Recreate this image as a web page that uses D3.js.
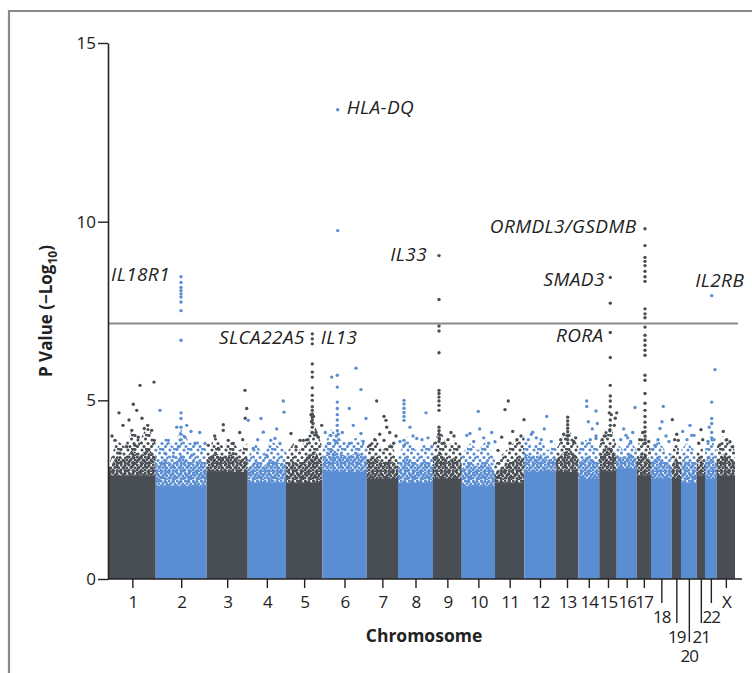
<!DOCTYPE html>
<html>
<head>
<meta charset="utf-8">
<script src="https://cdn.jsdelivr.net/npm/d3@7"></script>
<style>
body { margin: 0; background: #fff; }
text { font-family: "Open Sans", sans-serif; fill: #222; }
</style>
</head>
<body>
<svg id="chart" width="752" height="673"></svg>
<script>
// chromosome names and relative sizes (as plotted)
const chromNames = ['1','2','3','4','5','6','7','8','9','10','11','12','13','14','15','16','17','18','19','20','21','22','X'];
const chromSize = [46.7, 51, 41, 38.3, 36.3, 44.4, 31.3, 35, 28.7, 33.3, 29.3, 31.4, 22.6, 21, 17.4, 20, 14.3, 20.7, 9.3, 15.7, 8.3, 11.7, 18.3];

// top of the fully packed mass of SNPs, per chromosome (-log10 P)
const solidTop = [2.9, 2.6, 3.0, 2.7, 2.7, 3.0, 2.8, 2.7, 2.8, 2.6, 2.7, 3.0, 3.0, 2.8, 3.0, 3.1, 2.9, 2.8, 2.8, 2.7, 2.9, 2.8, 2.9];

// upper edge of the densely scattered SNPs, sampled across each chromosome
const fringeTop = [
  [3.2, 3.9, 3.7, 4.2, 3.9, 4.3, 3.8], [3.6, 4.0, 3.7, 4.2, 3.8, 3.9, 3.6], [3.5, 4.0, 3.7, 3.9, 3.6, 3.8],
  [3.4, 3.8, 3.5, 3.9, 3.7, 3.6], [3.5, 3.8, 3.6, 4.1, 4.3, 3.7], [3.6, 4.2, 3.9, 3.8, 4.0, 3.7],
  [3.7, 4.0, 3.6, 3.8, 3.4], [3.4, 4.0, 3.6, 3.8, 3.6], [3.8, 4.2, 3.7, 3.9, 3.6],
  [3.5, 3.8, 3.6, 3.9, 3.3], [3.2, 3.5, 3.7, 3.9, 4.0], [4.0, 3.7, 3.9, 3.6, 3.8],
  [3.6, 4.0, 4.1, 3.7], [3.6, 3.9, 3.8, 3.6], [3.8, 4.2, 4.3, 3.7],
  [3.8, 3.6, 3.9, 3.6], [3.6, 4.1, 4.0, 3.6], [3.7, 3.9, 3.6, 3.5],
  [3.5, 3.9, 3.4], [3.6, 3.8, 3.7, 3.5], [3.5, 3.8, 3.4],
  [3.6, 4.0, 3.9, 3.5], [3.7, 4.0, 3.8, 3.6]
];

// individual SNPs standing out above the mass: [offset within chromosome, -log10 P]
const hits = [
  [[10,4.65],[24.3,4.89],[27.7,4.72],[31,5.42],[45,5.51],[38.7,4.3],[35.3,4.21],[45.3,3.88],[22.7,4.16],[17.7,3.7],[6,3.88],[11,3.52],[29.3,3.97],[26,3.74],[42.7,4.16],[3,4.0],[14,4.3],[20,4.45],[33,4.5]],
  [[25.3,8.46],[25.3,8.3],[25.3,8.16],[25.3,8.07],[25.3,7.98],[25.3,7.89],[25.3,7.75],[25.3,7.51],[25.3,6.68],[4.3,4.72],[25.3,4.65],[25.3,4.49],[25.3,4.25],[21,4.25],[35.3,4.13],[12.6,3.88],[39.3,3.79],[49.3,3.79],[29.3,3.97],[22.6,3.7],[9.3,3.52],[36,3.46],[17.6,3.42],[25.3,4.05],[25.3,3.9],[44,4.1],[31,4.3]],
  [[16.6,4.32],[16.6,4.16],[26.6,3.79],[1.6,3.74],[38.3,5.28],[40,4.77],[11.6,3.65],[21.6,3.88],[26.6,3.51],[8,4.0],[33,4.1],[36,3.9],[38.5,4.5]],
  [[0.6,4.44],[13.3,4.49],[35.6,4.98],[36.3,4.67],[15.6,4.11],[27.3,3.93],[5.6,3.65],[19,3.46],[32.3,3.79],[23,3.88],[10,3.9],[29,4.2]],
  [[26.3,6.86],[26.3,6.72],[26.3,6.58],[26.3,6.02],[26.3,5.79],[26.3,5.65],[26.3,5.35],[26.3,5.14],[26.3,5.0],[26.3,4.82],[26.3,4.72],[26.3,4.62],[26.3,4.53],[26.3,4.45],[25,4.6],[27.5,4.55],[25.5,4.4],[27,4.35],[26.3,4.25],[26.3,4.1],[35.7,4.3],[5,4.07],[17.3,3.88],[32.3,3.97],[14,3.88],[10,3.7],[30,4.1],[22,3.9]],
  [[15.4,13.13],[15.4,9.75],[15,5.7],[15,5.37],[15,4.95],[15,4.77],[15,4.6],[15,4.45],[15,4.3],[15,4.15],[14,4.0],[16,4.05],[13.5,3.85],[16.5,3.9],[9.4,5.65],[33.7,5.9],[38.7,5.3],[27,4.77],[43.7,4.49],[38.7,4.07],[6,3.79],[27,3.79],[20,4.1],[31,4.3],[3,4.1],[41,3.85]],
  [[10,4.98],[17.3,4.55],[19.3,4.44],[20,4.25],[29.3,4.0],[3.3,3.74],[17.3,3.88],[25,3.7],[8,3.9],[13,4.05],[23,4.1],[27,3.8]],
  [[6,5.0],[6,4.9],[6,4.78],[6,4.66],[6,4.55],[6,4.44],[6,3.88],[6,3.74],[12,4.25],[28,4.65],[18.7,3.93],[33.7,3.7],[24,3.9],[15,4.0],[30,3.95],[2,3.85]],
  [[6,9.05],[6,7.82],[6,7.08],[6,6.94],[6,6.33],[6,5.28],[6,5.19],[6,5.09],[6,4.98],[6,4.86],[6,4.72],[6,4.25],[6,4.15],[6,4.05],[6,3.95],[6,3.85],[21,4.0],[15,3.9],[26,3.7],[11,3.8],[18,4.1]],
  [[16.6,4.69],[33.3,3.84],[5,4.02],[8.3,4.07],[12,3.85],[22,3.95],[27,3.8],[18,4.2],[30,4.1]],
  [[13.3,4.98],[10,4.74],[17.7,4.13],[6.7,3.97],[22,3.9],[26,4.0],[3,3.6],[15,3.8],[29,4.46]],
  [[22.4,4.55],[8.4,4.11],[7,4.05],[12,3.95],[17,3.9],[27,3.85],[4,3.9],[20,4.2]],
  [[12,4.53],[12,4.42],[12,4.32],[12,4.22],[12,4.12],[12,4.0],[12,3.9],[12,3.8],[5,3.9],[18,3.85],[8,4.05],[20,3.95]],
  [[8.4,4.98],[8.4,4.83],[17.7,4.7],[17.7,4.0],[17.7,3.93],[4,3.8],[12,3.9],[14,4.2],[10,4.4],[19,4.35]],
  [[11,8.44],[11,7.72],[11,6.9],[11,6.2],[11,5.42],[11,5.12],[11,4.98],[11,4.82],[10,4.65],[12,4.6],[11,4.45],[11,4.3],[10.5,4.15],[17.4,4.65],[16,4.5],[3,3.9],[6,4.0],[15,4.3]],
  [[18.3,4.8],[9.3,4.02],[11,3.95],[4,3.9],[14,3.85],[16,4.1],[7,4.2]],
  [[8.3,9.8],[8.3,9.33],[8.3,9.0],[8.3,8.89],[8.3,8.77],[8.3,8.61],[8.3,8.46],[8.3,8.33],[8.3,7.56],[8.3,7.42],[8.3,7.31],[8.3,7.05],[8.3,6.82],[8.3,6.68],[8.3,6.54],[8.3,6.4],[8.3,6.26],[8.3,5.7],[8.3,5.56],[8.3,5.19],[8.3,4.92],[8.3,4.72],[8.3,4.55],[8.3,4.39],[8.3,4.25],[8.3,4.12],[8.3,4.0],[8.3,3.9],[8.3,3.8],[3,3.9],[12,3.85],[6,4.1]],
  [[12.3,4.83],[9,4.21],[15,4.0],[4,3.74],[7,3.9],[18,3.85],[11,4.4]],
  [[0.6,4.46],[6.6,3.88],[3,3.9],[5,4.05]],
  [[1.7,4.13],[10.7,4.02],[13,4.02],[6,3.9],[9,4.3]],
  [[4.3,4.18],[2,3.8],[6,3.9]],
  [[6.7,7.93],[10,5.86],[6.7,4.95],[6.7,4.49],[4.3,4.25],[6.7,4.35],[6.7,4.1],[6.7,3.95],[3,3.85],[9,3.9]],
  [[6.6,4.13],[13.3,3.84],[3,3.75],[10,3.9],[16,3.7]]
];

// genome-wide significance line
const threshold = 7.15;
const yTicks = [0, 5, 10, 15];

// gene labels: [name, chromosome index, offset, -log10 P of the SNP it marks]
const geneLabels = [
  ['HLA-DQ', 5, 15.4, 13.13],
  ['IL18R1', 1, 25.3, 8.46],
  ['SLCA22A5', 4, 26.3, 6.86],
  ['IL13', 4, 26.3, 6.86],
  ['IL33', 8, 6, 9.05],
  ['ORMDL3/GSDMB', 16, 8.3, 9.8],
  ['SMAD3', 14, 11, 8.44],
  ['RORA', 14, 11, 6.9],
  ['IL2RB', 21, 6.7, 7.93]
];

// ---------- layout ----------
const dark = '#494e55', blue = '#5a8dd2';
const colorOf = i => i % 2 === 0 ? dark : blue;

const labelLayout = {
  'HLA-DQ': { dx: 9, dy: 4.5, anchor: 'start' },
  'IL18R1': { dx: -11, dy: 4, anchor: 'end' },
  'SLCA22A5': { dx: -7.5, dy: 10.6, anchor: 'end' },
  'IL13': { dx: 8.4, dy: 10.6, anchor: 'start' },
  'IL33': { dx: -12, dy: 5, anchor: 'end' },
  'ORMDL3/GSDMB': { dx: -8.5, dy: 4.6, anchor: 'end' },
  'SMAD3': { dx: -5.5, dy: 8.3, anchor: 'end' },
  'RORA': { dx: -6.7, dy: 10, anchor: 'end' },
  'IL2RB': { dx: 8, dy: -8.3, anchor: 'middle' }
};

const svg = d3.select('#chart');

const starts = [];
chromSize.reduce((acc, s, i) => { starts[i] = acc; return acc + s; }, 0);
const total = d3.sum(chromSize);

let x = d3.scaleLinear().domain([0, total]).range([109, 735]);
let y = d3.scaleLinear().domain([0, 15]).range([579, 43]);

// frame
svg.append('path')
  .attr('d', 'M9,673V11H752')
  .attr('fill', 'none')
  .attr('stroke', '#8a8a8a')
  .attr('stroke-width', 2.2);

// dot textures for the scattered band (dense near the mass, sparse above)
const defs = svg.append('defs');
const denseDots = [[1, 1], [5, 1.5], [3, 3.5], [7, 4], [1, 6], [5, 6.5], [7.5, 7.8]];
const sparseDots = [[2, 2], [9, 1.5], [5.5, 5], [12, 6], [1.5, 9], [8, 9.5], [4, 12.5], [11.5, 12.5], [13.5, 10], [6.5, 1]];
[dark, blue].forEach((c, k) => {
  [['dense', 8, denseDots], ['sparse', 14, sparseDots]].forEach(([nm, sz, dots]) => {
    let p = defs.append('pattern')
      .attr('id', nm + k)
      .attr('patternUnits', 'userSpaceOnUse')
      .attr('width', sz).attr('height', sz);
    dots.forEach(d => {
      p.append('circle').attr('cx', d[0]).attr('cy', d[1]).attr('r', 1.55).attr('fill', c);
    });
  });
});

let mass = svg.append('g');
chromNames.forEach((name, i) => {
  let x0 = x(starts[i]), x1 = x(starts[i] + chromSize[i]);
  mass.append('rect')
    .attr('x', x0).attr('width', x1 - x0)
    .attr('y', y(solidTop[i])).attr('height', y(0) - y(solidTop[i]))
    .attr('fill', colorOf(i));

  let prof = fringeTop[i];
  let pts = prof.map((v, j) => [starts[i] + chromSize[i] * j / (prof.length - 1), v]);
  // sparse upper band
  mass.append('path')
    .datum(pts)
    .attr('d', d3.area().x(d => x(d[0])).y0(y(solidTop[i]) + 0.5).y1(d => y(d[1])))
    .attr('fill', 'url(#sparse' + (i % 2) + ')');
  // dense lower band
  mass.append('path')
    .datum(pts)
    .attr('d', d3.area().x(d => x(d[0])).y0(y(solidTop[i]) + 0.5)
      .y1(d => y(solidTop[i] + (d[1] - solidTop[i]) * 0.55)))
    .attr('fill', 'url(#dense' + (i % 2) + ')');
});

// outlying SNPs
let pointsG = svg.append('g');
hits.forEach((list, i) => {
  pointsG.selectAll(null)
    .data(list)
    .enter()
    .append('circle')
    .attr('cx', d => x(starts[i] + d[0]))
    .attr('cy', d => y(d[1]))
    .attr('r', 1.7)
    .attr('fill', colorOf(i));
});

// threshold line
svg.append('line')
  .attr('x1', 108).attr('x2', 738)
  .attr('y1', y(threshold)).attr('y2', y(threshold))
  .attr('stroke', '#8a8a8a')
  .attr('stroke-width', 2);

// y axis
let yaxis = svg.append('g')
  .attr('transform', 'translate(108,0)')
  .call(d3.axisLeft(y).tickValues(yTicks).tickSize(10).tickSizeOuter(0).tickPadding(2));
yaxis.select('.domain').attr('stroke', '#222').attr('stroke-width', 1.6);
yaxis.selectAll('.tick line').attr('stroke', '#222').attr('stroke-width', 1.4);
yaxis.selectAll('.tick text').attr('font-size', 17).attr('fill', '#222');

// x axis
const tickLen = chromNames.map(n => ({ '18': 24, '19': 44, '20': 63, '21': 44, '22': 24 })[n] || 9);
const centers = chromNames.map((n, i) => starts[i] + chromSize[i] / 2);

let xaxis = svg.append('g')
  .attr('transform', 'translate(0,579)')
  .call(d3.axisBottom(x).tickValues(centers).tickFormat((d, i) => chromNames[i]).tickSizeOuter(0));
xaxis.select('.domain').attr('d', 'M108,0H742').attr('stroke', '#222').attr('stroke-width', 1.6);
xaxis.selectAll('.tick line')
  .attr('y2', (d, i) => tickLen[i])
  .attr('stroke', '#222').attr('stroke-width', 1.4);
xaxis.selectAll('.tick text')
  .attr('y', (d, i) => tickLen[i] + 20)
  .attr('dy', 0)
  .attr('font-size', 17)
  .attr('letter-spacing', -0.9)
  .attr('fill', '#222');

// axis titles
svg.append('text')
  .attr('x', 424).attr('y', 642)
  .attr('text-anchor', 'middle')
  .attr('font-size', 17.5)
  .attr('font-weight', 'bold')
  .text('Chromosome');

let yt = svg.append('text')
  .attr('transform', 'translate(52,311) rotate(-90)')
  .attr('text-anchor', 'middle')
  .attr('font-size', 17)
  .attr('font-weight', 'bold');
yt.append('tspan').text('P Value (\u2212Log');
yt.append('tspan').attr('font-size', 12).attr('dy', 5).text('10');
yt.append('tspan').attr('dy', -5).text(')');

// gene labels
svg.append('g')
  .selectAll('text')
  .data(geneLabels)
  .enter()
  .append('text')
  .attr('x', d => x(starts[d[1]] + d[2]) + labelLayout[d[0]].dx)
  .attr('y', d => y(d[3]) + labelLayout[d[0]].dy)
  .attr('text-anchor', d => labelLayout[d[0]].anchor)
  .attr('font-size', 19)
  .attr('letter-spacing', 0.4)
  .attr('font-style', 'italic')
  .text(d => d[0]);
</script>
</body>
</html>
